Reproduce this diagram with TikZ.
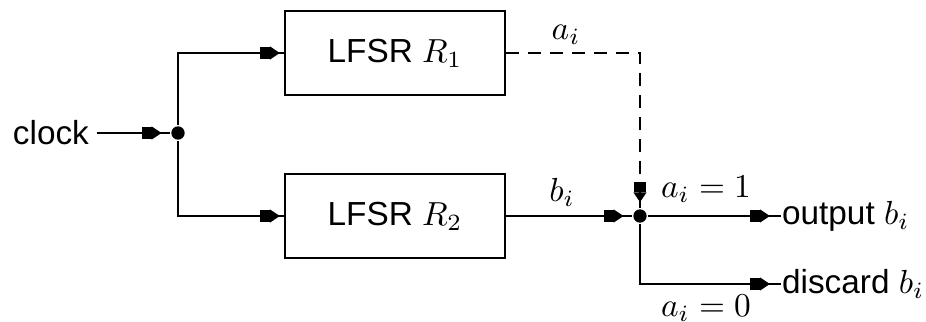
\documentclass[tikz,border=0pt]{standalone}
\usepackage{fontspec}
\setmainfont{Liberation Sans}
\usetikzlibrary{arrows.meta}
\begin{document}
\begin{tikzpicture}[x=0.3pt,y=-0.3pt,
  font=\fontsize{10}{12}\selectfont,
  line width=0.65pt,
  regbox/.style={draw,rectangle,minimum width=66pt,minimum height=25pt,inner sep=0pt},
  junc/.style={circle,fill=black,inner sep=0pt,minimum size=4pt},
  arr/.style={-{Square[length=3pt,width=3.8pt]Triangle[length=3pt,width=3.8pt]}},
  lbl/.style={inner sep=0pt,anchor=base}]
\useasboundingbox (0,0) rectangle (926,321);
\node[regbox] (r1) at (395,53) {LFSR $R_1$};
\node[regbox] (r2) at (395,216) {LFSR $R_2$};
\node[anchor=east,inner sep=0pt] (clock) at (90,133) {clock};
\node[junc] (d1) at (178,133) {};
\node[junc] (d2) at (640,216) {};
\coordinate (t1) at (178,53);
\coordinate (t2) at (178,216);
\coordinate (c1) at (640,53);
\coordinate (c2) at (640,186);
\node[anchor=west,inner sep=0pt] (out) at (781,216) {output $b_i$};
\node[anchor=west,inner sep=0pt] (dis) at (781,284) {discard $b_i$};
\coordinate (t3) at (640,284);
% clock to junction
\draw ([xshift=2pt]clock.east) -- (d1);
\draw[arr,shorten >=2.6pt] ([xshift=2pt]clock.east) -- (d1);
% branches to registers
\draw (d1) -- (t1) -- (r1.west);
\draw[arr,shorten >=1.2pt] (t1) -- (r1.west);
\draw (d1) -- (t2) -- (r2.west);
\draw[arr,shorten >=1.2pt] (t2) -- (r2.west);
% dashed control a_i
\draw[dash pattern=on 4pt off 2.6pt] (r1.east) -- (c1) -- (c2);
\draw (c2) -- (d2);
\draw[arr,shorten >=1.8pt] (c2) -- (d2);
\node[lbl] (ai) at (566,40) {$a_i$};
% b_i to junction
\draw (r2.east) -- (d2);
\draw[arr,shorten >=2.6pt] (r2.east) -- (d2);
\node[lbl] (bi) at (562,201) {$b_i$};
% outputs
\draw (d2) -- (out.west);
\draw[arr,shorten >=3.3pt] (d2) -- (out.west);
\draw (d2) -- (t3) -- (dis.west);
\draw[arr,shorten >=3.3pt] (t3) -- (dis.west);
\node[lbl] (a1) at (706,197) {$a_i=1$};
\node[lbl] (a0) at (706,316) {$a_i=0$};
\end{tikzpicture}
\end{document}
